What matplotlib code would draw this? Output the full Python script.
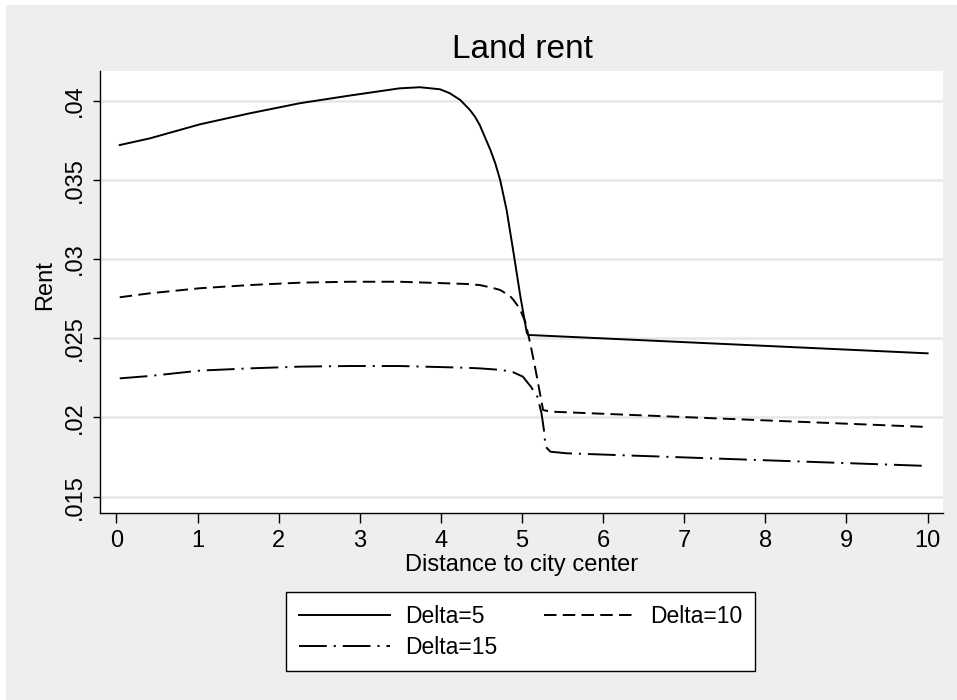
import matplotlib
matplotlib.use("Agg")
import matplotlib.pyplot as plt
from matplotlib.patches import Rectangle

plt.rcParams['font.family'] = ['Liberation Sans', 'DejaVu Sans']
plt.rcParams['lines.scale_dashes'] = False

# ---- data ----
title = "Land rent"
xlabel = "Distance to city center"
ylabel = "Rent"
labels = ["Delta=5", "Delta=10", "Delta=15"]

x_d5 = [0.04, 0.41, 1.03, 1.64, 2.26, 2.87, 3.49, 3.74, 3.99, 4.11, 4.24, 4.36,
        4.42, 4.48, 4.54, 4.61, 4.67, 4.73, 4.81, 4.89, 4.98, 5.06, 5.08, 10.0]
y_d5 = [0.0372, 0.03762, 0.03851, 0.0392, 0.03984, 0.04032, 0.04078, 0.04085,
        0.04072, 0.04047, 0.04004, 0.0394, 0.03899, 0.03845, 0.03773, 0.03689,
        0.03605, 0.0350, 0.0331, 0.03057, 0.02763, 0.02532, 0.02521, 0.02405]

x_d10 = [0.04, 0.41, 1.03, 1.64, 2.26, 2.87, 3.49, 4.31, 4.48, 4.64, 4.73, 4.85,
         4.89, 4.97, 5.04, 5.10, 5.16, 5.22, 5.26, 5.35, 10.0]
y_d10 = [0.02759, 0.02784, 0.02816, 0.02836, 0.02851, 0.02857, 0.02857, 0.02843,
         0.02836, 0.02818, 0.02805, 0.02768, 0.02745, 0.02689, 0.02605, 0.0247,
         0.0232, 0.02155, 0.02047, 0.02037, 0.0194]

x_d15 = [0.04, 0.41, 1.03, 1.64, 2.26, 2.87, 3.49, 4.31, 4.48, 4.75, 4.89, 5.01,
         5.11, 5.19, 5.24, 5.27, 5.29, 5.35, 5.55, 10.0]
y_d15 = [0.02247, 0.02262, 0.02296, 0.0231, 0.02321, 0.02325, 0.02325, 0.02314,
         0.0231, 0.02300, 0.02286, 0.02258, 0.02194, 0.02131, 0.02027, 0.01921,
         0.01816, 0.01784, 0.01774, 0.01694]

xticks = [0, 1, 2, 3, 4, 5, 6, 7, 8, 9, 10]
yticks = [0.015, 0.02, 0.025, 0.03, 0.035, 0.04]
ytick_labels = [".015", ".02", ".025", ".03", ".035", ".04"]

# ---- figure ----
W, H = 957, 700
fig = plt.figure(figsize=(W / 100, H / 100), dpi=100, facecolor='white')
fig.patches.append(Rectangle((6 / W, 0), (W - 6) / W, (H - 5) / H,
                             transform=fig.transFigure, facecolor='#eeeeee',
                             edgecolor='none', zorder=-10))

def fx(px):
    return px / W

def fy(py):
    return 1 - py / H

ax = fig.add_axes([fx(100), fy(513), (943 - 100) / W, (513 - 71) / H])
ax.set_facecolor('white')

lw = 1.4
h5, = ax.plot(x_d5, y_d5, color='black', lw=lw, linestyle='-', label=labels[0])
h10, = ax.plot(x_d10, y_d10, color='black', lw=lw, linestyle=(0, (9, 4.5)), label=labels[1])
h15, = ax.plot(x_d15, y_d15, color='black', lw=lw, linestyle=(0, (20, 5, 1.5, 5)), label=labels[2])

ax.set_xlim(-0.203, 10.19)
ax.set_ylim(0.01397, 0.041875)

ax.set_xticks(xticks)
ax.set_xticklabels([str(t) for t in xticks])
ax.set_yticks(yticks)
ax.set_yticklabels(ytick_labels, rotation=90, va='center')

ax.grid(axis='y', color='#e6e6e6', lw=1.8)
ax.set_axisbelow(True)

for s in ['top', 'right']:
    ax.spines[s].set_visible(False)
for s in ['left', 'bottom']:
    ax.spines[s].set_linewidth(1.0)
    ax.spines[s].set_color('black')

ax.tick_params(axis='x', length=7, width=1.0, pad=5.5, labelsize=17)
ax.tick_params(axis='y', length=5, width=1.0, pad=5, labelsize=17)

fig.text(fx(522.5), fy(49), title, ha='center', va='center', fontsize=24)
fig.text(fx(522), fy(565), xlabel, ha='center', va='center', fontsize=17)
fig.text(fx(45), fy(285), ylabel, ha='center', va='center', fontsize=17, rotation=90)

# row-major order: (Delta=5, Delta=10) on row 1, Delta=15 on row 2
leg = fig.legend([h5, h15, h10], [labels[0], labels[2], labels[1]], loc='upper left',
                 bbox_to_anchor=(fx(286), fy(671), (755 - 286) / W, (671 - 592) / H),
                 mode='expand', ncol=2, fontsize=16.5, frameon=True, fancybox=False,
                 edgecolor='black', facecolor='white', framealpha=1,
                 handlelength=4, handletextpad=0.65, labelspacing=0.35,
                 borderpad=0.55, borderaxespad=0, columnspacing=1.0)
leg.get_frame().set_linewidth(1.0)

fig.savefig("out.png", dpi=100, facecolor=fig.get_facecolor())
